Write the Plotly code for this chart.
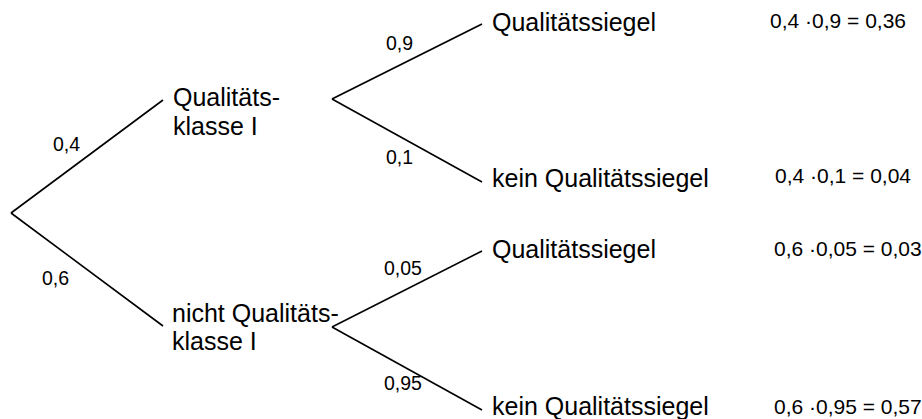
import plotly.graph_objects as go

# ---- data ----
stage1_labels = [["Qualitäts-", "klasse I"], ["nicht Qualitäts-", "klasse I"]]
stage1_probs = ["0,4", "0,6"]
stage2_labels = ["Qualitätssiegel", "kein Qualitätssiegel", "Qualitätssiegel", "kein Qualitätssiegel"]
stage2_probs = ["0,9", "0,1", "0,05", "0,95"]
path_products = ["0,4 \u00b70,9 = 0,36", "0,4 \u00b70,1 = 0,04", "0,6 \u00b70,05 = 0,03", "0,6 \u00b70,95 = 0,57"]

# ---- layout geometry (pixel-like canvas coordinates) ----
W, H = 922, 419
root = (11, 213)
s1_end = [(163, 100), (163, 326)]
s2_start = [(332, 99), (332, 327)]
s2_end = [(482, 24), (482, 182), (482, 251), (482, 410)]
s1_label_pos = [(171, 97, 126), (170, 313, 341)]
s1_prob_pos = [(66, 144), (55, 278)]
s2_prob_pos = [(399, 43), (399, 157), (403, 268), (403, 383)]
s2_label_pos = [(490, 22), (490, 178), (490, 249), (490, 406)]
prod_pos = [(768, 20), (773, 175), (772, 248), (772, 406)]

FONT = "Liberation Sans, Arial, sans-serif"
fig = go.Figure()

def seg(a, b):
    fig.add_trace(go.Scatter(x=[a[0], b[0]], y=[a[1], b[1]], mode="lines",
                             line=dict(color="black", width=1.6),
                             hoverinfo="skip", showlegend=False))

for e in s1_end:
    seg(root, e)
for i, e in enumerate(s2_end):
    seg(s2_start[i // 2], e)

def txt(x, y, t, size, anchor="left"):
    fig.add_annotation(x=x, y=y, text=t, showarrow=False, xanchor=anchor, yanchor="middle",
                       font=dict(family=FONT, size=size, color="black"))

for (x, y1, y2), lab in zip(s1_label_pos, stage1_labels):
    txt(x, y1, lab[0], 25)
    txt(x, y2, lab[1], 25)
for (x, y), p in zip(s1_prob_pos, stage1_probs):
    txt(x, y, p, 19.5, "center")
for (x, y), p in zip(s2_prob_pos, stage2_probs):
    txt(x, y, p, 19.5, "center")
for (x, y), lab in zip(s2_label_pos, stage2_labels):
    txt(x, y, lab, 25)
for (x, y), p in zip(prod_pos, path_products):
    txt(x, y, p, 21)

fig.update_xaxes(range=[0, W], visible=False, fixedrange=True)
fig.update_yaxes(range=[H, 0], visible=False, fixedrange=True)
fig.update_layout(width=W, height=H, margin=dict(l=0, r=0, t=0, b=0),
                  plot_bgcolor="white", paper_bgcolor="white", showlegend=False)
fig.write_html("out.html", config={"displayModeBar": False},
               post_script="document.body.style.margin='0';document.body.style.overflow='hidden';")
